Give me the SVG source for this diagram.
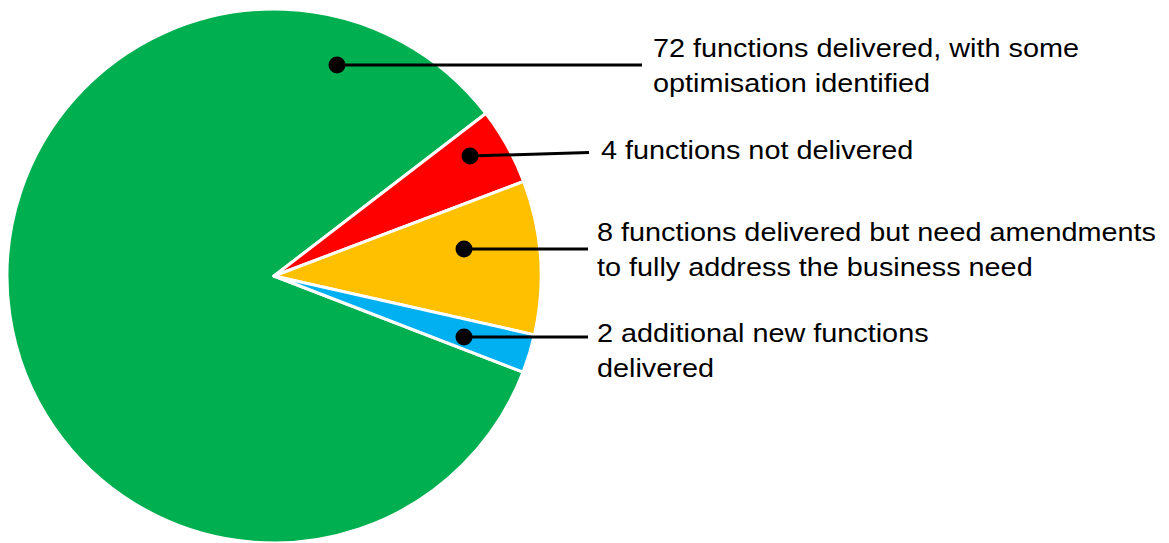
<svg xmlns="http://www.w3.org/2000/svg" width="1169" height="543" viewBox="0 0 1169 543">
  <style>
    .slice { stroke: #ffffff; stroke-width: 3; stroke-linejoin: round; }
    .leader { stroke: #000000; stroke-width: 3; fill: none; }
    .dot { fill: #000000; }
    .label { font-family: "Liberation Sans", Arial, sans-serif; font-size: 25px; fill: #000000; }
  </style>
  <rect width="1169" height="543" fill="#ffffff"/>

  <!-- pie slices, centre (274,276), radius 267 -->
  <g id="slice-green">
    <path class="slice" fill="#00B050" d="M274,276 L485.82,113.46 A267,267 0 1 0 523.10,372.11 Z"/>
  </g>
  <g id="slice-red">
    <path class="slice" fill="#FF0000" d="M274,276 L523.66,181.36 A267,267 0 0 0 485.82,113.46 Z"/>
  </g>
  <g id="slice-yellow">
    <path class="slice" fill="#FFC000" d="M274,276 L534.44,334.84 A267,267 0 0 0 523.66,181.36 Z"/>
  </g>
  <g id="slice-blue">
    <path class="slice" fill="#00B0F0" d="M274,276 L523.10,372.11 A267,267 0 0 0 534.44,334.84 Z"/>
  </g>

  <!-- leader lines from slices to their labels -->
  <g id="connectors">
    <line class="leader" x1="337" y1="65" x2="642" y2="65"/>
    <line class="leader" x1="470" y1="156" x2="589" y2="152.5"/>
    <line class="leader" x1="464" y1="249" x2="588" y2="249"/>
    <line class="leader" x1="464" y1="337" x2="588" y2="337"/>
    <circle class="dot" cx="337" cy="65" r="8.5"/>
    <circle class="dot" cx="470" cy="156" r="8.5"/>
    <circle class="dot" cx="464" cy="249" r="8.5"/>
    <circle class="dot" cx="464" cy="337" r="8.5"/>
  </g>

  <!-- labels use a slightly widened sans face -->
  <g id="label-green">
    <text class="label" transform="translate(653,57) scale(1.153,1)">72 functions delivered, with some</text>
    <text class="label" transform="translate(653,92) scale(1.153,1)">optimisation identified</text>
  </g>
  <g id="label-red">
    <text class="label" transform="translate(601,158.5) scale(1.153,1)">4 functions not delivered</text>
  </g>
  <g id="label-yellow">
    <text class="label" transform="translate(597,241) scale(1.153,1)">8 functions delivered but need amendments</text>
    <text class="label" transform="translate(597,276) scale(1.153,1)">to fully address the business need</text>
  </g>
  <g id="label-blue">
    <text class="label" transform="translate(597,341.5) scale(1.153,1)">2 additional new functions</text>
    <text class="label" transform="translate(597,376.5) scale(1.153,1)">delivered</text>
  </g>
</svg>
